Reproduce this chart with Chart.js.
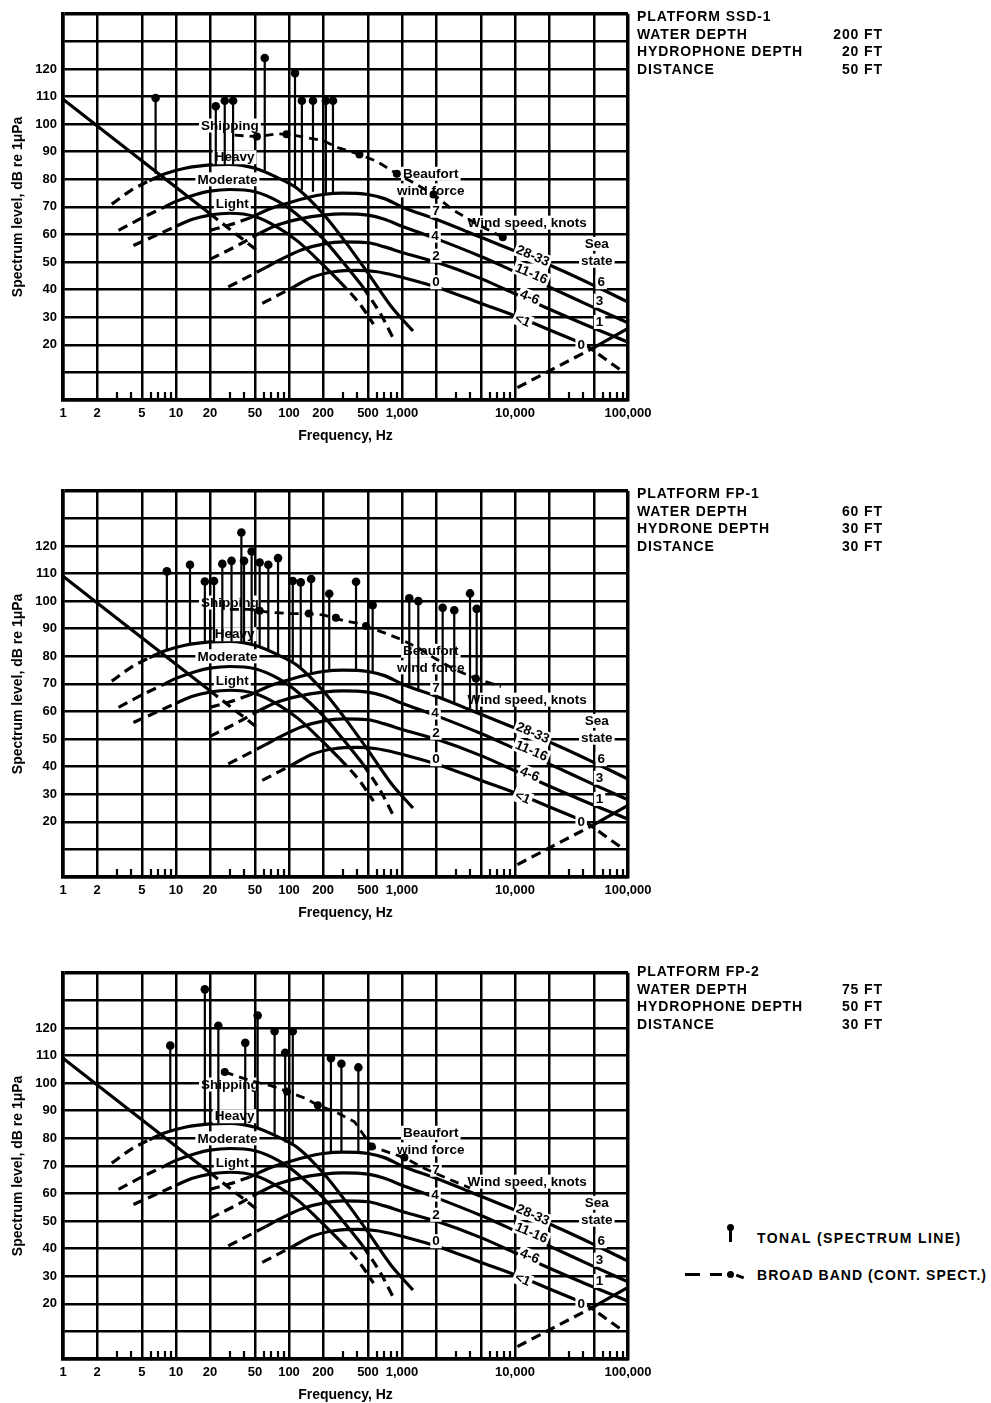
<!DOCTYPE html>
<html lang="en">
<head>
<meta charset="utf-8">
<title>Ambient noise spectra at three offshore platforms</title>
<script src="https://cdn.jsdelivr.net/npm/chart.js@4.4.1/dist/chart.umd.min.js"></script>
<style>
  html, body { margin: 0; padding: 0; background: #fff; }
  body { position: relative; width: 991px; height: 1403px; overflow: hidden;
         font-family: "Liberation Sans", Arial, sans-serif; font-weight: bold; color: #000; }
  canvas.panel { position: absolute; left: 0; }
  .info { position: absolute; left: 637px; width: 246px; font-size: 14px; line-height: 17.5px; letter-spacing: 0.9px; }
  .info .row { display: flex; justify-content: space-between; }
  .legend { position: absolute; left: 684px; width: 307px; height: 20px; font-size: 14px; letter-spacing: 1.4px; }
  .legend.bb { letter-spacing: 1.05px; }
  .legend .txt { position: absolute; left: 73px; top: 0; line-height: 20px; white-space: nowrap; }
  .legend .ball { position: absolute; width: 7px; height: 7px; border-radius: 50%; background: #000; }
  .legend .stem { position: absolute; width: 2.5px; background: #000; }
  .legend .dash { position: absolute; height: 3px; background: #000; }
</style>
</head>
<body>

<canvas id="panelSSD1" class="panel" width="660" height="450" style="top:0px"></canvas>
<canvas id="panelFP1" class="panel" width="660" height="450" style="top:477px"></canvas>
<canvas id="panelFP2" class="panel" width="660" height="450" style="top:959px"></canvas>

<div class="info" style="top:8px">
  <div>PLATFORM SSD-1</div>
  <div class="row"><span>WATER DEPTH</span><span>200 FT</span></div>
  <div class="row"><span>HYDROPHONE DEPTH</span><span>20 FT</span></div>
  <div class="row"><span>DISTANCE</span><span>50 FT</span></div>
</div>
<div class="info" style="top:485px">
  <div>PLATFORM FP-1</div>
  <div class="row"><span>WATER DEPTH</span><span>60 FT</span></div>
  <div class="row"><span>HYDRONE DEPTH</span><span>30 FT</span></div>
  <div class="row"><span>DISTANCE</span><span>30 FT</span></div>
</div>
<div class="info" style="top:963px">
  <div>PLATFORM FP-2</div>
  <div class="row"><span>WATER DEPTH</span><span>75 FT</span></div>
  <div class="row"><span>HYDROPHONE DEPTH</span><span>50 FT</span></div>
  <div class="row"><span>DISTANCE</span><span>30 FT</span></div>
</div>

<div class="legend" style="top:1228px">
  <div class="ball" style="left:43px; top:-4px"></div>
  <div class="stem" style="left:45.3px; top:0px; height:14px"></div>
  <div class="txt">TONAL (SPECTRUM LINE)</div>
</div>
<div class="legend bb" style="top:1265px">
  <div class="dash" style="left:1px; top:8px; width:15px"></div>
  <div class="dash" style="left:26px; top:8px; width:12px"></div>
  <div class="ball" style="left:43px; top:6px"></div>
  <div class="dash" style="left:52px; top:10px; width:8px; transform:rotate(20deg)"></div>
  <div class="txt">BROAD BAND (CONT. SPECT.)</div>
</div>

<script>
// ---------- axes ----------
const freqGridMajor = [1, 2, 5, 10, 20, 50, 100, 200, 500, 1000, 2000, 5000, 10000, 20000, 50000, 100000];
const freqLabelled  = [1, 2, 5, 10, 20, 50, 100, 200, 500, 1000, 10000, 100000];
const levelLabelled = [20, 30, 40, 50, 60, 70, 80, 90, 100, 110, 120];

// ---------- background noise curves: [frequency Hz, level dB] ----------
const turbulenceSolid  = [[1, 109], [20, 67.5]];
const turbulenceDashed = [[20, 67.5], [55, 53.5]];

const heavyShipDashed = [[2.7, 71], [4, 76], [5.8, 79.5]];
const heavyShipSolid  = [[5.8, 79.5], [8, 82], [12, 84], [20, 85.2], [30, 85.4], [50, 84], [80, 80.5],
                         [120, 76.5], [200, 67.5], [300, 58.5], [500, 46], [800, 34], [1250, 25]];

const moderateShipDashedLo = [[3.1, 61.5], [5, 66], [7.5, 69.5]];
const moderateShipSolid    = [[7.5, 69.5], [10, 72], [15, 74.5], [20, 75.7], [30, 76.3], [50, 75.5],
                              [80, 72], [120, 67], [200, 58.5], [300, 50], [450, 41]];
const moderateShipDashedHi = [[450, 41], [650, 31], [870, 21]];

const lightShipDashedLo = [[4.2, 56], [6.5, 59.5], [10, 63]];
const lightShipSolid    = [[10, 63], [14, 65.5], [20, 67], [30, 67.7], [50, 66.5], [80, 62.5],
                           [120, 57.5], [200, 49], [280, 43]];
const lightShipDashedHi = [[280, 43], [420, 35], [560, 27.5]];

const wind7Dashed = [[20, 61.5], [30, 63.5], [45, 66]];
const wind7Solid  = [[45, 66], [70, 69.5], [100, 71.5], [150, 73.5], [200, 74.5], [300, 75], [500, 74.5],
                     [700, 73], [1000, 70], [2000, 65.5], [5000, 59], [10000, 54], [20000, 49],
                     [50000, 41.5], [100000, 35.5]];

const wind4Dashed = [[20, 51], [35, 56], [55, 60.5]];
const wind4Solid  = [[55, 60.5], [80, 63.5], [120, 65.5], [200, 67], [300, 67.5], [500, 67], [700, 65.5],
                     [1000, 63], [2000, 58.5], [5000, 52], [10000, 46.5], [20000, 41], [50000, 33.5],
                     [100000, 28]];

const wind2Dashed = [[29, 41], [45, 45], [62, 48]];
const wind2Solid  = [[62, 48], [90, 51.5], [130, 54.5], [200, 56.5], [300, 57.3], [500, 57], [700, 55.5],
                     [1000, 53.5], [2000, 50], [5000, 44], [10000, 38.5], [20000, 33], [50000, 26],
                     [100000, 21]];

const wind0Dashed   = [[58, 35], [80, 38], [110, 41]];
const wind0Solid    = [[110, 41], [160, 44.5], [250, 46.5], [400, 47], [600, 46.5], [800, 45.5],
                       [1000, 44.5], [2000, 41], [5000, 35], [10000, 30.5], [20000, 25.5], [42000, 20]];
const wind0DashedHi = [[42000, 20], [92000, 10]];

const thermalDashed = [[10500, 4.5], [50000, 19]];
const thermalSolid  = [[50000, 19], [100000, 26], [150000, 30]];

// ---------- platform SSD-1 ----------
const ssd1TonalHz   = [6.6, 22.5, 27, 32, 61, 113, 130, 163, 212, 245];
const ssd1TonalTop  = [109.5, 106.5, 108.5, 108.5, 124, 118.5, 108.5, 108.5, 108.5, 108.5];
const ssd1TonalBase = [82, 85, 85.3, 85.4, 83, 77, 76, 75.5, 75, 75];
const ssd1Broadband = [[33, 96], [52, 95.5], [80, 96.5], [110, 96], [200, 94], [270, 91.5], [420, 89],
                       [600, 86.5], [900, 82], [1300, 78.5], [1900, 74.5], [2800, 69], [4500, 64], [7800, 59]];
const ssd1BroadbandDots = [[52, 95.5], [95, 96.3], [420, 89], [900, 82], [1900, 74.5], [7800, 59]];

// ---------- platform FP-1 ----------
const fp1TonalHz   = [8.3, 13.3, 18, 21.7, 25.7, 31, 37.9, 40, 46.7, 55, 65.6, 80, 108, 127, 157, 227,
                      392, 550, 1160, 1394, 2290, 2900, 4000, 4580];
const fp1TonalTop  = [110.8, 113.2, 107.1, 107.3, 113.5, 114.6, 124.9, 114.6, 118, 114, 113.2, 115.6,
                      107.3, 106.8, 108, 102.7, 107, 98.5, 101, 100, 97.6, 96.7, 102.8, 97.2];
const fp1TonalBase = [82.5, 84.3, 85.2, 85.3, 85.4, 85.4, 85, 84.8, 84.4, 83.5, 82, 80.5,
                      77.5, 75.8, 74, 74.8, 75, 74, 69.2, 68, 64.5, 63, 61, 60];
const fp1Broadband = [[30, 97], [45, 97], [65, 96], [100, 95.5], [140, 95.5], [200, 95], [300, 93],
                      [400, 92], [550, 90], [700, 88.5], [1000, 86], [1400, 83], [2000, 79], [3000, 75],
                      [4500, 72], [7500, 69]];
const fp1BroadbandDots = [[55, 96.5], [150, 95.5], [260, 94], [480, 91], [4500, 72]];

// ---------- platform FP-2 ----------
const fp2TonalHz   = [8.9, 18, 23.7, 41, 52.8, 74.6, 92.5, 108, 235, 291, 411];
const fp2TonalTop  = [113.6, 134, 120.8, 114.6, 124.5, 118.8, 111, 118.8, 109, 107, 105.7];
const fp2TonalBase = [83, 85.2, 85.4, 84.8, 84, 81.5, 78.5, 77.5, 74.8, 75, 75];
const fp2Broadband = [[27, 104], [45, 101], [70, 99], [96, 97], [140, 94.5], [180, 92], [260, 89.5],
                      [380, 86], [540, 77], [750, 75], [1050, 73], [1600, 69], [2500, 65.5], [4000, 62]];
const fp2BroadbandDots = [[27, 104], [96, 97], [180, 92], [540, 77], [1050, 73]];

// ---------- drawing ----------
const FONT = '"Liberation Sans", Arial, sans-serif';

const freqTicks = [];
for (let k = 0; k <= 4; k++) for (let d = 1; d <= 9; d++) freqTicks.push(d * Math.pow(10, k));
freqTicks.push(100000);

// annotations written on the background curves: text, Hz, dB, rotation (deg), alignment
const curveNotes = [
  ['Shipping', 30, 99.5, 0, 'center'],
  ['Heavy', 33, 88, 0, 'center'],
  ['Moderate', 28.5, 80, 0, 'center'],
  ['Light', 31.5, 71, 0, 'center'],
  ['Beaufort', 1800, 82, 0, 'center'],
  ['wind force', 1800, 76, 0, 'center'],
  ['Wind speed, knots', 3800, 64.3, 0, 'left'],
  ['7', 2000, 68.6, 0, 'center'],
  ['4', 1960, 59.6, 0, 'center'],
  ['2', 2000, 52.3, 0, 'center'],
  ['0', 2000, 42.7, 0, 'center'],
  ['28-33', 14400, 52.3, 23, 'center'],
  ['11-16', 14000, 45.8, 23, 'center'],
  ['4-6', 13500, 37.3, 23, 'center'],
  ['<1', 11700, 28.9, 23, 'center'],
  ['Sea', 53000, 56.6, 0, 'center'],
  ['state', 53000, 50.5, 0, 'center'],
  ['6', 58000, 42.7, 0, 'center'],
  ['3', 56000, 36, 0, 'center'],
  ['1', 56000, 28.3, 0, 'center'],
  ['0', 38500, 20, 0, 'center']
];

const minorTickMarks = {
  id: 'minorTickMarks',
  beforeDatasetsDraw(chart) {
    const { ctx, chartArea, scales: { x } } = chart;
    ctx.save();
    ctx.strokeStyle = '#000';
    ctx.lineWidth = 2.2;
    ctx.beginPath();
    for (const v of freqTicks) {
      if (freqGridMajor.includes(v)) continue;
      const px = Math.round(x.getPixelForValue(v));
      ctx.moveTo(px, chartArea.bottom);
      ctx.lineTo(px, chartArea.bottom - 8);
    }
    ctx.stroke();
    ctx.restore();
  }
};

const curveNotesPlugin = {
  id: 'curveNotes',
  beforeDatasetDraw(chart, args) {
    if (chart.data.datasets[args.index].role !== 'broadband') return;
    const { ctx, scales: { x, y } } = chart;
    ctx.save();
    ctx.font = 'bold 13.5px ' + FONT;
    ctx.textBaseline = 'middle';
    ctx.textAlign = 'left';
    for (const [text, f, db, angle, align] of curveNotes) {
      const px = x.getPixelForValue(f);
      const py = y.getPixelForValue(db);
      ctx.save();
      ctx.translate(px, py);
      ctx.rotate(angle * Math.PI / 180);
      const w = ctx.measureText(text).width;
      const left = align === 'left' ? 0 : -w / 2;
      ctx.fillStyle = '#fff';
      ctx.fillRect(left - 2, -7, w + 4, 14);
      ctx.fillStyle = '#000';
      ctx.fillText(text, left, 0.5);
      ctx.restore();
    }
    ctx.restore();
  }
};

const toXY = pts => pts.map(([f, db]) => ({ x: f, y: db }));

function curve(pts, dashed, extra) {
  return Object.assign({
    role: 'background',
    data: toXY(pts),
    borderColor: '#000',
    borderWidth: 3.2,
    borderDash: dashed ? [10, 6] : [],
    pointRadius: 0,
    cubicInterpolationMode: 'monotone',
    fill: false,
    order: 5
  }, extra || {});
}

function backgroundCurves() {
  return [
    curve(turbulenceSolid, false), curve(turbulenceDashed, true),
    curve(heavyShipDashed, true), curve(heavyShipSolid, false),
    curve(moderateShipDashedLo, true), curve(moderateShipSolid, false), curve(moderateShipDashedHi, true),
    curve(lightShipDashedLo, true), curve(lightShipSolid, false), curve(lightShipDashedHi, true),
    curve(wind7Dashed, true), curve(wind7Solid, false),
    curve(wind4Dashed, true), curve(wind4Solid, false),
    curve(wind2Dashed, true), curve(wind2Solid, false),
    curve(wind0Dashed, true), curve(wind0Solid, false), curve(wind0DashedHi, true),
    curve(thermalDashed, true, { clip: false }), curve(thermalSolid, false, { clip: false })
  ];
}

function makePanel(canvasId, tonalHz, tonalTop, tonalBase, broadband, broadbandDots) {
  const stems = [];
  tonalHz.forEach((f, i) => {
    stems.push({ x: f, y: tonalBase[i] }, { x: f, y: tonalTop[i], head: true }, { x: f, y: null });
  });

  const datasets = backgroundCurves().concat([
    {
      role: 'broadband',
      data: toXY(broadband),
      borderColor: '#000', borderWidth: 2.8, borderDash: [9, 6],
      pointRadius: 0, tension: 0, fill: false, order: 2
    },
    {
      role: 'broadbandDots',
      data: toXY(broadbandDots),
      showLine: false, pointRadius: 4, pointBackgroundColor: '#000', pointBorderWidth: 0, order: 1
    },
    {
      role: 'tonal',
      data: stems,
      borderColor: '#000', borderWidth: 2.2, tension: 0, spanGaps: false, fill: false,
      pointRadius: c => (c.raw && c.raw.head ? 4.3 : 0),
      pointBackgroundColor: '#000', pointBorderWidth: 0, order: 0, clip: false
    }
  ]);

  const tickFont = { family: FONT, size: 13, weight: 'bold' };

  return new Chart(document.getElementById(canvasId), {
    type: 'line',
    data: { datasets },
    options: {
      responsive: false,
      animation: false,
      devicePixelRatio: 1,
      events: [],
      layout: { padding: { top: 12, right: 32, left: 0, bottom: 0 } },
      plugins: { legend: { display: false }, tooltip: { enabled: false } },
      scales: {
        x: {
          type: 'logarithmic', min: 1, max: 100000,
          afterBuildTicks: ax => { ax.ticks = freqTicks.map(v => ({ value: v })); },
          afterFit: ax => { ax.height = 50; },
          grid: {
            drawTicks: false,
            color: c => (freqGridMajor.includes(c.tick.value) ? '#000' : 'rgba(0,0,0,0)'),
            lineWidth: c => (c.tick.value === 100000 ? 3.5 : 2.5)
          },
          border: { display: true, color: '#000', width: 3.5 },
          ticks: {
            autoSkip: false, maxRotation: 0, minRotation: 0, padding: 6, color: '#000', font: tickFont,
            callback: v => (freqLabelled.includes(v) ? v.toLocaleString('en-US') : '')
          },
          title: {
            display: true, text: 'Frequency, Hz', color: '#000',
            font: { family: FONT, size: 14, weight: 'bold' }, padding: { top: 0, bottom: 5 }
          }
        },
        y: {
          type: 'linear', min: 0, max: 140,
          afterFit: ax => { ax.width = 63; },
          grid: {
            drawTicks: false, color: '#000',
            lineWidth: c => (c.tick.value === 140 ? 3.5 : 2.5)
          },
          border: { display: true, color: '#000', width: 3.5 },
          ticks: {
            stepSize: 10, padding: 6, color: '#000', font: tickFont,
            callback: v => (levelLabelled.includes(v) ? String(v) : '')
          },
          title: {
            display: true, text: 'Spectrum level, dB re 1\u03BCPa', color: '#000',
            font: { family: FONT, size: 14, weight: 'bold' }, padding: { top: 10, bottom: 0 }
          }
        }
      }
    },
    plugins: [minorTickMarks, curveNotesPlugin]
  });
}

makePanel('panelSSD1', ssd1TonalHz, ssd1TonalTop, ssd1TonalBase, ssd1Broadband, ssd1BroadbandDots);
makePanel('panelFP1', fp1TonalHz, fp1TonalTop, fp1TonalBase, fp1Broadband, fp1BroadbandDots);
makePanel('panelFP2', fp2TonalHz, fp2TonalTop, fp2TonalBase, fp2Broadband, fp2BroadbandDots);
</script>
</body>
</html>
